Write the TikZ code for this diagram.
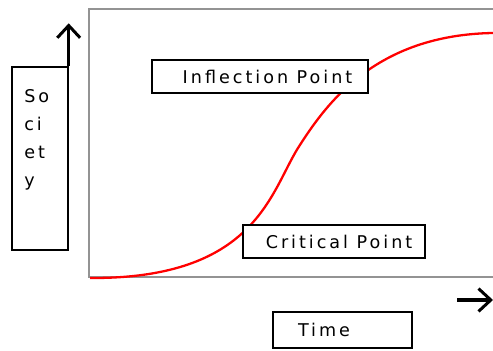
\documentclass[tikz,border=0pt]{standalone}
\usepackage{fontspec}
\setmainfont{DejaVu Sans}[LetterSpace=17]
\usetikzlibrary{arrows.meta}

\begin{document}
\begin{tikzpicture}[x=0.02cm, y=-0.02cm,
  labelbox/.style={draw, line width=0.8pt, inner sep=0pt, font=\fontsize{10}{12}\selectfont},
  axisarrow/.style={line width=1.9pt, -{Straight Barb[length=7pt, width=13pt, line width=1.7pt]}}]

\useasboundingbox (0,0) rectangle (493,351);

\coordinate (O) at (89, 277);
\coordinate (TL) at (89, 9);
\coordinate (TR) at (493, 9);
\coordinate (BR) at (493, 277);
\coordinate (Xtail) at (457, 300);
\coordinate (Xtip) at (493, 300);
\coordinate (S0) at (90, 278);
\coordinate (S1) at (298, 148);
\coordinate (S2) at (493, 33);

% frame
\draw[line width=1.7pt, gray!85] (TR) -- (TL) -- (O) -- (BR);

% s-curve
\draw[red, line width=1.3pt] (S0) .. controls (255,279) and (270,193) .. (S1)
  .. controls (326,104) and (375,35) .. (S2);

% boxes
\node[labelbox, minimum width=1.12cm, minimum height=3.66cm] (society) at (40, 158.5) {};
\node[anchor=north west, align=left, inner sep=0pt,
      font=\fontsize{10}{16}\selectfont] (societytext) at (24, 89) {So\\ci\\et\\y};

\node[labelbox, fill=white, minimum width=4.32cm, minimum height=0.66cm] (inflection) at (260, 76.5) {\hspace{0.3cm}Inflection Point};
\node[labelbox, fill=white, minimum width=3.64cm, minimum height=0.66cm] (critical) at (334, 241.5) {\hspace{0.2cm}Critical Point};
\node[labelbox, minimum width=2.78cm, minimum height=0.72cm, text width=2.78cm, align=left] (time) at (342.5, 330) {\hspace{0.5cm}Time};

% axis arrows
\draw[axisarrow] (society.north east) -- ++(0,-43);
\draw[axisarrow] (Xtail) -- (Xtip);

\end{tikzpicture}
\end{document}
